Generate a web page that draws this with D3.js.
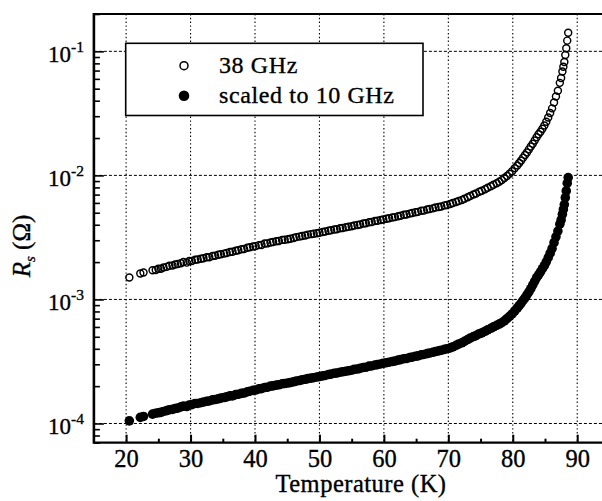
<!DOCTYPE html>
<html>
<head>
<meta charset="utf-8">
<script src="https://cdn.jsdelivr.net/npm/d3@7"></script>
<style>
  body { margin: 0; background: #fff; }
  svg { display: block; }
  svg text { font-family: "Liberation Serif", "Times New Roman", Times, "DejaVu Serif", serif !important; fill: #000; stroke: #000; stroke-width: 0.35px; }
</style>
</head>
<body>
<svg id="chart" width="602" height="501"></svg>
<script>
// Surface resistance vs temperature; both series share the same temperature points.
const temperatureK = [20.5,22.2,22.7,24.1,24.6,25.0,25.4,25.8,26.3,26.7,27.2,27.6,28.0,28.5,28.9,
  29.4,29.8,30.2,30.7,31.1,31.6,32.0,32.5,32.9,33.4,33.8,34.3,34.7,35.2,35.6,36.1,36.5,37.0,37.4,37.9,
  38.3,38.8,39.2,39.7,40.1,40.6,41.0,41.5,41.9,42.4,42.8,43.3,43.7,44.2,44.6,45.1,45.5,46.0,46.4,46.9,
  47.3,47.8,48.2,48.7,49.1,49.6,50.0,50.5,50.9,51.4,51.8,52.3,52.7,53.2,53.6,54.1,54.5,55.0,55.4,55.9,
  56.3,56.8,57.2,57.7,58.1,58.6,59.0,59.5,59.9,60.4,60.8,61.3,61.7,62.2,62.6,63.1,63.5,64.0,64.4,64.9,
  65.3,65.8,66.2,66.7,67.1,67.6,68.0,68.5,68.9,69.4,69.8,70.3,70.7,71.2,71.6,72.1,72.5,73.0,73.4,73.9,
  74.3,74.8,75.2,75.7,76.1,76.6,77.0,77.5,77.9,78.3,78.7,79.1,79.5,79.9,80.3,80.7,81.0,81.3,81.6,81.9,
  82.2,82.5,82.8,83.1,83.4,83.7,84.0,84.3,84.6,84.9,85.2,85.5,85.8,86.1,86.4,86.7,87.0,87.3,87.5,87.7,
  87.85,88.0,88.15,88.3,88.45,88.6];

// Rs measured at 38 GHz, in milliohm
const rs38mOhm = [1.50,1.62,1.65,1.72,1.73,1.77,1.77,1.81,1.83,1.87,
  1.88,1.91,1.93,1.96,2.00,1.98,2.04,2.04,2.09,2.10,
  2.13,2.15,2.19,2.19,2.24,2.25,2.29,2.31,2.34,2.37,
  2.41,2.42,2.47,2.49,2.54,2.55,2.61,2.63,2.67,2.69,
  2.74,2.75,2.82,2.83,2.88,2.90,2.95,2.96,3.02,3.03,
  3.06,3.09,3.13,3.18,3.21,3.25,3.28,3.33,3.36,3.39,
  3.42,3.45,3.50,3.53,3.58,3.61,3.66,3.68,3.75,3.77,
  3.82,3.85,3.89,3.94,3.98,4.02,4.09,4.11,4.19,4.21,
  4.29,4.31,4.37,4.41,4.47,4.51,4.57,4.61,4.68,4.72,
  4.81,4.83,4.92,4.97,5.04,5.08,5.18,5.20,5.30,5.35,
  5.42,5.50,5.57,5.62,5.73,5.78,5.89,6.00,6.11,6.22,
  6.34,6.49,6.67,6.82,7.01,7.14,7.38,7.52,7.73,7.94,
  8.17,8.39,8.63,8.87,9.16,9.51,9.89,10.3,10.8,11.4,
  12.0,12.6,13.2,13.9,14.6,15.3,16.2,17.1,18.0,19.1,
  20.3,21.5,22.5,23.8,25.2,27.1,29.3,31.8,34.7,38.7,
  43.2,48.1,55.7,61.0,68.7,75.2,82.2,93.3,106,122,
  141];

// Rs scaled to 10 GHz, in milliohm
const rs10mOhm = [0.105,0.112,0.114,0.119,0.121,0.122,0.123,0.125,0.127,0.129,
  0.130,0.132,0.133,0.136,0.138,0.137,0.141,0.142,0.145,0.145,
  0.147,0.149,0.151,0.152,0.155,0.156,0.158,0.160,0.162,0.164,
  0.167,0.167,0.171,0.172,0.175,0.176,0.180,0.182,0.185,0.186,
  0.190,0.191,0.195,0.196,0.200,0.201,0.204,0.205,0.209,0.210,
  0.212,0.214,0.217,0.220,0.222,0.225,0.227,0.230,0.232,0.234,
  0.237,0.239,0.242,0.244,0.248,0.250,0.254,0.255,0.259,0.261,
  0.264,0.266,0.269,0.273,0.275,0.278,0.283,0.284,0.290,0.291,
  0.296,0.298,0.302,0.305,0.309,0.312,0.316,0.319,0.324,0.327,
  0.333,0.334,0.340,0.343,0.348,0.351,0.358,0.360,0.366,0.370,
  0.375,0.380,0.385,0.389,0.396,0.400,0.407,0.415,0.426,0.436,
  0.447,0.460,0.475,0.488,0.502,0.511,0.529,0.538,0.554,0.569,
  0.585,0.601,0.618,0.633,0.649,0.673,0.700,0.731,0.764,0.807,
  0.853,0.891,0.935,0.982,1.03,1.09,1.15,1.22,1.31,1.40,
  1.50,1.58,1.67,1.77,1.87,2.01,2.17,2.36,2.57,2.87,
  3.20,3.56,4.04,4.37,4.86,5.32,5.82,6.61,7.50,8.65,
  9.60];

const xMajorTicks = [20, 30, 40, 50, 60, 70, 80, 90];
const xMinorTicks = [25, 35, 45, 55, 65, 75, 85];
const yDecadeExponents = [-4, -3, -2, -1];
const legendLabels = ["38 GHz", "scaled to 10 GHz"];

const FONT = '"Liberation Serif", "Times New Roman", Times, "DejaVu Serif", serif';
const svg = d3.select("#chart");
const plotLeft = 93.9, plotTop = 14, plotBottom = 442.7, plotRight = 603;

const x = d3.scaleLinear().domain([15, 94]).range([plotLeft, plotRight]);
const y = d3.scaleLog().domain([7e-5, 0.2]).range([plotBottom, plotTop]);

const yMajor = yDecadeExponents.map(e => Math.pow(10, e));
const yMinor = [];
[-5, -4, -3, -2, -1].forEach(e => {
  for (let m = 2; m <= 9; m++) {
    const v = m * Math.pow(10, e);
    if (v >= 7e-5 && v <= 0.2) yMinor.push(v);
  }
});

// grid
const grid = svg.append("g");
grid.selectAll("line.vx").data(xMajorTicks).join("line")
  .attr("x1", d => x(d)).attr("x2", d => x(d))
  .attr("y1", plotTop).attr("y2", plotBottom)
  .attr("stroke", "#000").attr("stroke-width", 1.1)
  .attr("stroke-dasharray", "1.4,2.4");
grid.selectAll("line.hy").data(yMajor).join("line")
  .attr("x1", plotLeft).attr("x2", plotRight)
  .attr("y1", d => y(d)).attr("y2", d => y(d))
  .attr("stroke", "#000").attr("stroke-width", 1)
  .attr("stroke-dasharray", "3,2");

// data
const pts = temperatureK.map((t, i) => ({ t, a: rs38mOhm[i] * 1e-3, b: rs10mOhm[i] * 1e-3 }));
svg.append("g").selectAll("circle").data(pts).join("circle")
  .attr("cx", d => x(d.t)).attr("cy", d => y(d.b)).attr("r", 4.8)
  .attr("fill", "#000");
svg.append("g").selectAll("circle").data(pts).join("circle")
  .attr("cx", d => x(d.t)).attr("cy", d => y(d.a)).attr("r", 3.5)
  .attr("fill", "none").attr("stroke", "#000").attr("stroke-width", 1.45);

// axes
const xAxis = svg.append("g").attr("transform", `translate(0,${plotBottom})`)
  .call(d3.axisBottom(x).tickValues(xMajorTicks).tickSizeInner(-8).tickSizeOuter(0).tickPadding(7));
xAxis.attr("font-family", FONT);
xAxis.select(".domain").remove();
xAxis.selectAll(".tick line").attr("stroke-width", 2);
xAxis.selectAll("text").attr("font-size", 24.5);
const xMinorAxis = svg.append("g").attr("transform", `translate(0,${plotBottom})`)
  .call(d3.axisBottom(x).tickValues(xMinorTicks).tickSizeInner(-4).tickSizeOuter(0).tickFormat(""));
xMinorAxis.select(".domain").remove();
xMinorAxis.selectAll(".tick line").attr("stroke-width", 2);

const yAxis = svg.append("g").attr("transform", `translate(${plotLeft},0)`)
  .call(d3.axisLeft(y).tickValues(yMajor).tickSizeInner(-10).tickSizeOuter(0).tickPadding(10).tickFormat(""));
yAxis.attr("font-family", FONT);
yAxis.select(".domain").remove();
yAxis.selectAll(".tick line").attr("stroke-width", 1.6);
yAxis.selectAll(".tick text").each(function (d) {
  const t = d3.select(this).attr("font-size", 23).attr("dy", "0.42em");
  t.append("tspan").text("10");
  t.append("tspan").attr("font-size", 15.5).attr("dy", "-0.62em").text(String(Math.round(Math.log10(d))));
});
const yMinorAxis = svg.append("g").attr("transform", `translate(${plotLeft},0)`)
  .call(d3.axisLeft(y).tickValues(yMinor).tickSizeInner(-6).tickSizeOuter(0).tickFormat(""));
yMinorAxis.select(".domain").remove();
yMinorAxis.selectAll(".tick line").attr("stroke-width", 1.6);

// frame
svg.append("line").attr("x1", plotLeft).attr("x2", plotLeft).attr("y1", plotTop - 1).attr("y2", plotBottom + 1)
  .attr("stroke", "#000").attr("stroke-width", 2.6);
svg.append("line").attr("x1", plotLeft).attr("x2", plotRight).attr("y1", plotBottom).attr("y2", plotBottom)
  .attr("stroke", "#000").attr("stroke-width", 2.2);
svg.append("line").attr("x1", plotLeft).attr("x2", plotRight).attr("y1", plotTop).attr("y2", plotTop)
  .attr("stroke", "#000").attr("stroke-width", 2);

// axis titles
svg.append("text").attr("x", 361).attr("y", 492).attr("text-anchor", "middle")
  .attr("font-family", FONT).attr("font-size", 24.5).attr("letter-spacing", 0.5).text("Temperature (K)");
const yTitle = svg.append("text").attr("transform", "translate(30,246) rotate(-90)")
  .attr("text-anchor", "middle").attr("font-family", FONT).attr("font-size", 25);
yTitle.append("tspan").attr("font-style", "italic").text("R");
yTitle.append("tspan").attr("font-style", "italic").attr("font-size", 15).attr("dy", "0.3em").text("s");
yTitle.append("tspan").attr("dy", "-0.2em").text(" (\u03A9)");

// legend
const legend = svg.append("g").attr("font-family", FONT);
legend.append("rect").attr("x", 125.7).attr("y", 43.3).attr("width", 297.3).attr("height", 72.2)
  .attr("fill", "#fff").attr("stroke", "#000").attr("stroke-width", 1.6);
const legendRows = legend.selectAll("g.row").data(legendLabels).join("g")
  .attr("transform", (d, i) => `translate(0,${65.7 + i * 30})`);
legendRows.append("circle").attr("cx", 184).attr("cy", 0)
  .attr("r", (d, i) => i === 0 ? 4 : 5.3)
  .attr("fill", (d, i) => i === 0 ? "none" : "#000")
  .attr("stroke", "#000").attr("stroke-width", (d, i) => i === 0 ? 1.5 : 0);
legendRows.append("text").attr("x", 219).attr("y", 7).attr("font-size", 24)
  .attr("letter-spacing", 0.6).text(d => d);
</script>
</body>
</html>
